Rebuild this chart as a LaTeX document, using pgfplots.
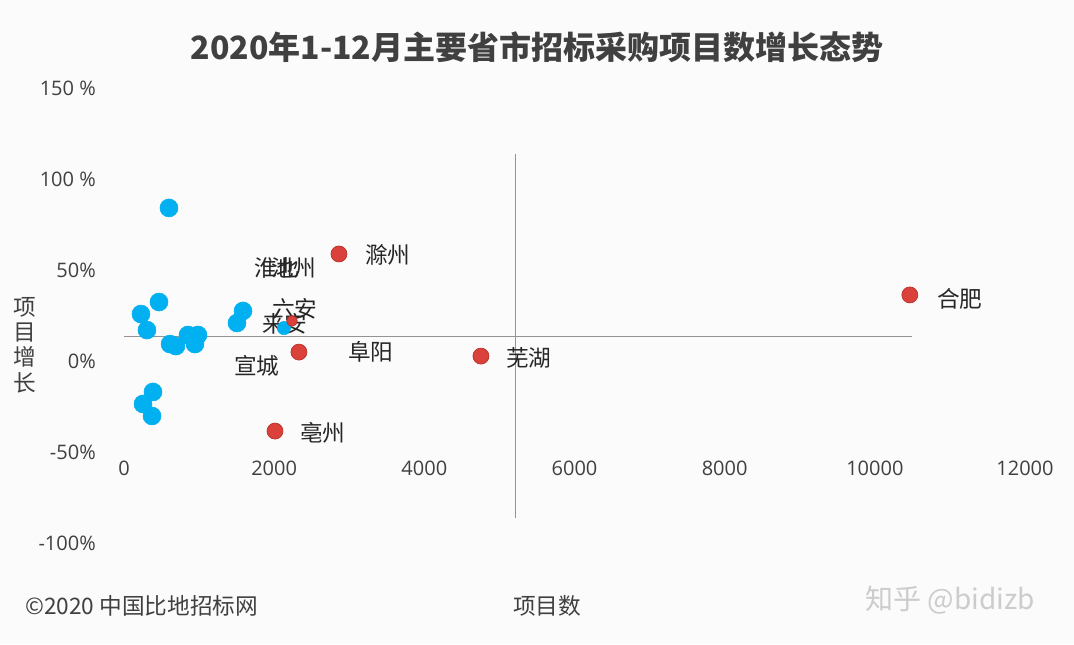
\documentclass[border=0pt]{standalone}
\usepackage{pgfplots}
\pgfplotsset{compat=1.18}
\usepackage{fontspec}
\setmainfont{Open Sans}
\newfontfamily\cjk{Noto Sans CJK SC}
\definecolor{ptblue}{HTML}{00B0F0}
\definecolor{ptred}{HTML}{D9413A}
\definecolor{ptredd}{HTML}{B83028}
\definecolor{txt}{HTML}{404040}
\definecolor{bg}{HTML}{FCFBFC}
\begin{document}
\begin{tikzpicture}
\fill[bg] (-93pt,-75.75pt) rectangle (712.5pt,407.25pt);
\begin{axis}[
  scale only axis,
  width=675.75pt, height=341.25pt,
  xmin=0, xmax=12000, ymin=-100, ymax=150,
  axis line style={draw=none},
  clip=false,
  major tick length=0pt,
  xtick={0,2000,4000,6000,8000,10000,12000},
  xticklabels={0,2000,4000,6000,8000,10000,12000},
  ytick={-100,-50,0,50,100,150},
  yticklabels={-100\%,-50\%,0\%,50\%,100 \%,150 \%},
  xticklabel style={anchor=center, yshift=56.25pt, font=\fontsize{15}{15}\selectfont, text=txt},
  yticklabel style={anchor=east, inner sep=0pt, xshift=-21pt, font=\fontsize{15}{15}\selectfont, text=txt},
  scaled x ticks=false,
]
% reference lines
\addplot[draw=gray!85, line width=0.75pt] coordinates {(0,13.7) (10493,13.7)};
\addplot[draw=gray!85, line width=0.75pt] coordinates {(5220,113.7) (5220,-86.3)};
% blue points
\addplot[only marks, mark=*, mark size=6.75pt, mark options={fill=ptblue, draw=ptblue}] coordinates {
(599,84.1) (466,32.4) (226,25.8) (306,17.0) (613,9.3) (692,8.2) (852,14.3) (985,14.3) (945,9.3)
(1585,27.5) (1505,20.9) (386,-17.0) (253,-23.6) (373,-30.2)
};
\addplot[only marks, mark=*, mark size=5pt, mark options={fill=ptblue, draw=ptblue}] coordinates {
(2130,18.1)
};
% red points
\addplot[only marks, mark=*, mark size=6pt, mark options={fill=ptred, draw=ptredd, line width=0.5pt}] coordinates {
(2863,58.8) (10466,36.3) (2330,4.9) (4754,2.7) (2011,-38.5)
};
\addplot[only marks, mark=*, mark size=4pt, mark options={fill=ptred, draw=ptredd, line width=0.5pt}] coordinates {
(2237,22.0)
};
\begin{scope}[every node/.style={font=\cjk\fontsize{17}{17}\selectfont, text=black!85, inner sep=0pt}]
\node at (axis cs:3515,58.2) {滁州};
\node at (axis cs:11132,34.1) {合肥};
\node at (axis cs:2277,28.6) {六安};
\node at (axis cs:2144,20.3) {来安};
\node at (axis cs:2037,51.1) {淮北};
\node at (axis cs:2264,51.1) {池州};
\node at (axis cs:1771,-2.7) {宣城};
\node at (axis cs:3289,4.9) {阜阳};
\node at (axis cs:5393,1.6) {芜湖};
\node at (axis cs:2650,-39.6) {亳州};
\end{scope}
\end{axis}
\node[font=\cjk\bfseries\fontsize{24}{24}\selectfont, text=txt] at (309.75pt,372pt) {2020年1-12月主要省市招标采购项目数增长态势};
\node[font=\cjk\fontsize{17}{19}\selectfont, text=txt, align=center, inner sep=0pt] at (-74.25pt,148.5pt) {项\\目\\增\\长};
\node[font=\cjk\fontsize{17}{17}\selectfont, text=txt] at (317.25pt,-47.25pt) {项目数};
\node[font=\cjk\fontsize{17}{17}\selectfont, text=txt, anchor=west, inner sep=0pt] at (-74.25pt,-47.25pt) {©2020 中国比地招标网};
\node[font=\cjk\fontsize{21}{21}\selectfont, text=black!20] at (619.5pt,-42.75pt) {知乎 @bidizb};
\pgfresetboundingbox
\path[use as bounding box] (-93pt,-75.75pt) rectangle (712.5pt,407.25pt);
\end{tikzpicture}
\end{document}
